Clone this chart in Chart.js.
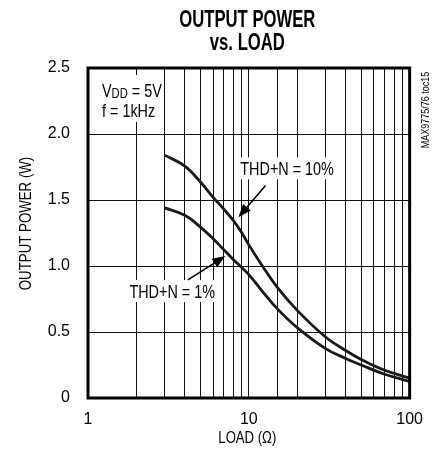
<!DOCTYPE html>
<html><head><meta charset="utf-8">
<script src="https://cdn.jsdelivr.net/npm/chart.js@4/dist/chart.umd.min.js"></script>
<style>html,body{margin:0;padding:0;background:#fff}canvas{display:block}</style>
</head><body>
<canvas id="c" width="435" height="457"></canvas>
<script>
// ---- data ----
const loads = [3, 4, 5, 6, 7, 8, 9, 10, 12, 15, 20, 30, 40, 50, 70, 100];
const thd10 = [1.84, 1.757, 1.636, 1.52, 1.43, 1.345, 1.255, 1.16, 1.01, 0.84, 0.664, 0.462, 0.36, 0.292, 0.21, 0.15];
const thd1  = [1.44, 1.384, 1.295, 1.207, 1.122, 1.05, 0.99, 0.935, 0.816, 0.677, 0.533, 0.374, 0.30, 0.25, 0.18, 0.125];
const xTickLabels = ['1', '10', '100'];
const yTickLabels = ['0', '0.5', '1.0', '1.5', '2.0', '2.5'];
const titleLines = ['OUTPUT POWER', 'vs. LOAD'];
const xTitle = 'LOAD (\u03A9)';
const yTitle = 'OUTPUT POWER (W)';
const seriesNames = ['THD+N = 10%', 'THD+N = 1%'];

const FONT = '"Liberation Sans", Arial, Helvetica, sans-serif';
const SX = 0.8; // horizontal condensing for annotation text

function sText(ctx, text, x, y, font, s, align) {
  ctx.save();
  ctx.font = font;
  ctx.textAlign = align || 'left';
  ctx.translate(x, y);
  ctx.scale(s, 1);
  ctx.fillText(text, 0, 0);
  ctx.restore();
  ctx.save(); ctx.font = font; const w = ctx.measureText(text).width * s; ctx.restore();
  return w;
}
function sWidth(ctx, text, font, s) {
  ctx.save(); ctx.font = font; const w = ctx.measureText(text).width * s; ctx.restore(); return w;
}

function arrow(ctx, x1, y1, x2, y2) {
  const a = Math.atan2(y2 - y1, x2 - x1);
  const L = 13, W = 5;
  ctx.save();
  ctx.strokeStyle = '#000'; ctx.fillStyle = '#000'; ctx.lineWidth = 1.6;
  ctx.beginPath();
  ctx.moveTo(x1, y1);
  ctx.lineTo(x2 - Math.cos(a) * L * 0.8, y2 - Math.sin(a) * L * 0.8);
  ctx.stroke();
  ctx.beginPath();
  ctx.moveTo(x2, y2);
  ctx.lineTo(x2 - Math.cos(a) * L - Math.sin(a) * W, y2 - Math.sin(a) * L + Math.cos(a) * W);
  ctx.lineTo(x2 - Math.cos(a) * L + Math.sin(a) * W, y2 - Math.sin(a) * L - Math.cos(a) * W);
  ctx.closePath();
  ctx.fill();
  ctx.restore();
}

function labelBox(ctx, text, cx, cy) {
  const f = '18px ' + FONT;
  const w = sWidth(ctx, text, f, SX);
  ctx.save();
  ctx.fillStyle = '#fff';
  ctx.fillRect(cx - w / 2 - 3, cy - 11, w + 6, 22);
  ctx.fillStyle = '#000';
  ctx.textBaseline = 'alphabetic';
  sText(ctx, text, cx - w / 2, cy + 6.5, f, SX, 'left');
  ctx.restore();
}

const decor = {
  id: 'decor',
  beforeDatasetsDraw(chart) {
    const ctx = chart.ctx, a = chart.chartArea;
    const xs = chart.scales.x, ys = chart.scales.y;
    // conditions box
    ctx.save();
    ctx.fillStyle = '#fff';
    ctx.fillRect(a.left + 8, a.top + 7, 66, 47);
    ctx.fillStyle = '#000';
    ctx.textBaseline = 'alphabetic';
    const f = '18px ' + FONT, fs = '14px ' + FONT;
    let x = a.left + 14;
    x += sText(ctx, 'V', x, a.top + 29, f, SX);
    x += sText(ctx, 'DD', x, a.top + 30, fs, SX);
    sText(ctx, ' = 5V', x, a.top + 29, f, SX);
    sText(ctx, 'f = 1kHz', a.left + 14, a.top + 48.5, f, SX);
    ctx.restore();
    // series labels
    labelBox(ctx, seriesNames[0], xs.getPixelForValue(17.3), ys.getPixelForValue(1.74));
    labelBox(ctx, seriesNames[1], xs.getPixelForValue(3.34), ys.getPixelForValue(0.81));
  },
  afterDatasetsDraw(chart) {
    const ctx = chart.ctx, a = chart.chartArea;
    const xs = chart.scales.x, ys = chart.scales.y;
    arrow(ctx, xs.getPixelForValue(12.7), ys.getPixelForValue(1.61), xs.getPixelForValue(8.62), ys.getPixelForValue(1.37));
    arrow(ctx, xs.getPixelForValue(4.18), ys.getPixelForValue(0.895), xs.getPixelForValue(7.15), ys.getPixelForValue(1.075));
    ctx.save();
    ctx.strokeStyle = '#000';
    ctx.lineWidth = 3;
    ctx.strokeRect(a.left, a.top, a.right - a.left, a.bottom - a.top);
    ctx.restore();
  },
  afterDraw(chart) {
    const ctx = chart.ctx, a = chart.chartArea;
    const cx = (a.left + a.right) / 2 - 1.5;
    ctx.save();
    ctx.fillStyle = '#000';
    ctx.textBaseline = 'alphabetic';
    const tf = 'bold 24px ' + FONT;
    const s = 136 / sWidth(ctx, titleLines[0], tf, 1);
    sText(ctx, titleLines[0], cx, 27, tf, s, 'center');
    sText(ctx, titleLines[1], cx, 50, tf, s, 'center');
    // axis titles
    const af = '16px ' + FONT;
    sText(ctx, xTitle, cx, 443, af, 0.82, 'center');
    ctx.save();
    ctx.translate(31, 223.5);
    ctx.rotate(-Math.PI / 2);
    sText(ctx, yTitle, 0, 0, af, 0.83, 'center');
    ctx.restore();
    // side code
    ctx.save();
    ctx.translate(429, 110);
    ctx.rotate(-Math.PI / 2);
    sText(ctx, 'MAX9775/76 toc15', 0, 0, '11px ' + FONT, 0.82, 'center');
    ctx.restore();
    ctx.restore();
  }
};

const mk = (arr) => loads.map((l, i) => ({ x: l, y: arr[i] }));

new Chart(document.getElementById('c'), {
  type: 'line',
  data: {
    datasets: [
      { label: seriesNames[0], data: mk(thd10), borderColor: '#1a1a1a', borderWidth: 2.8, pointRadius: 0, fill: false, tension: 0.4 },
      { label: seriesNames[1], data: mk(thd1), borderColor: '#1a1a1a', borderWidth: 2.8, pointRadius: 0, fill: false, tension: 0.4 }
    ]
  },
  options: {
    responsive: false,
    animation: false,
    devicePixelRatio: 1,
    layout: { padding: { top: 68, right: 18, left: 0, bottom: 0 } },
    plugins: { legend: { display: false }, tooltip: { enabled: false }, title: { display: false } },
    scales: {
      x: {
        type: 'logarithmic', min: 1, max: 100,
        afterFit(s) { s.height = 59; },
        grid: { color: '#111', lineWidth: 1, drawTicks: false },
        border: { display: false },
        ticks: {
          autoSkip: false, maxRotation: 0, padding: 12,
          color: '#000', font: { family: FONT, size: 16 },
          callback: (v) => xTickLabels.includes(String(v)) ? String(v) : ''
        }
      },
      y: {
        type: 'linear', min: 0, max: 2.5,
        afterFit(s) { s.width = 88; },
        grid: { color: '#111', lineWidth: 1, drawTicks: false },
        border: { display: false },
        ticks: {
          stepSize: 0.5, padding: 18,
          color: '#000', font: { family: FONT, size: 16 },
          callback: (v, i) => yTickLabels[i]
        }
      }
    }
  },
  plugins: [decor]
});
</script>
</body></html>
